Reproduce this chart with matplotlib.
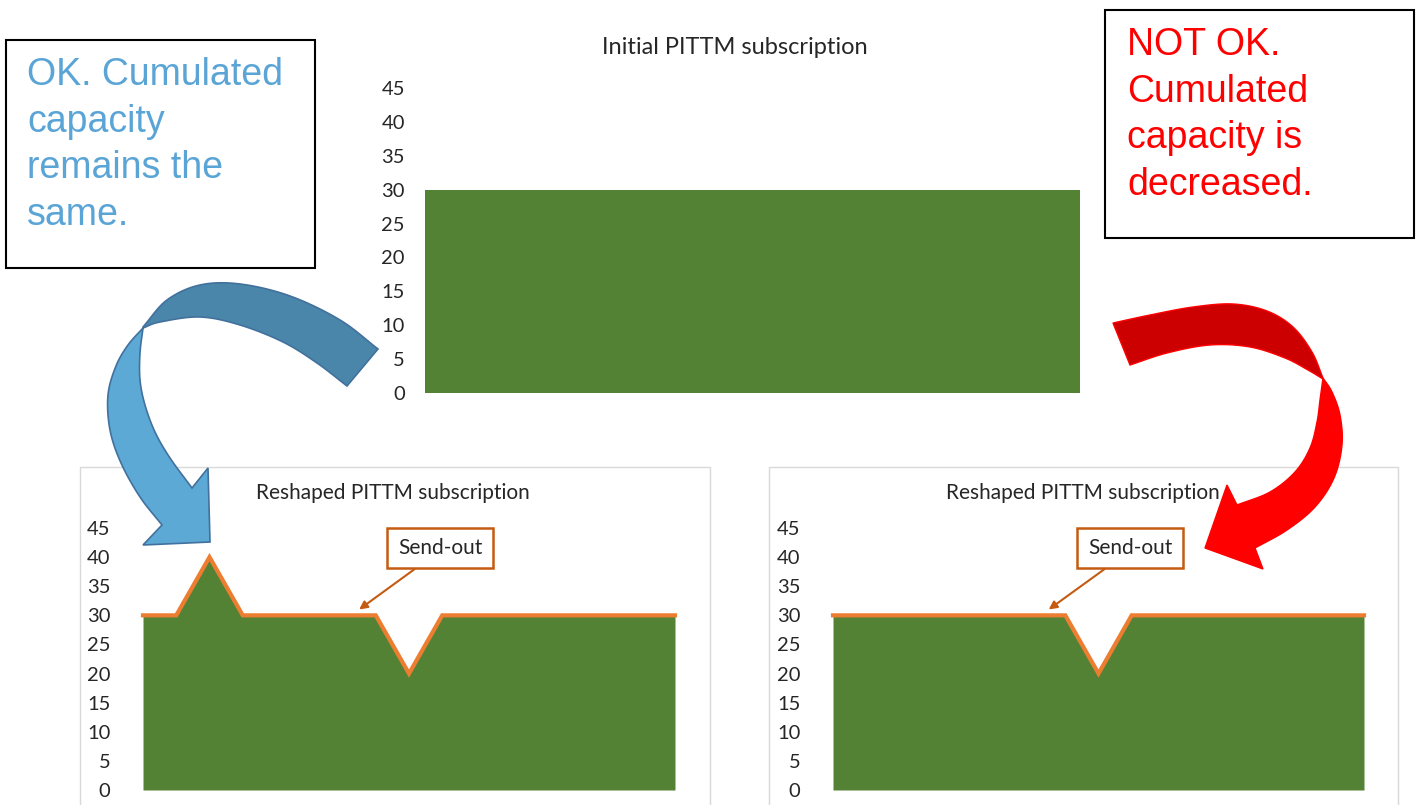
import numpy as np
import matplotlib
matplotlib.use("Agg")
import matplotlib.pyplot as plt
from matplotlib.patches import Polygon, Rectangle

# ---------------- data ----------------
periods = list(range(17))
initial_subscription = [30, 30, 30, 30, 30, 30, 30, 30, 30, 30, 30, 30, 30, 30, 30, 30, 30]
reshaped_ok = [30, 30, 40, 30, 30, 30, 30, 30, 20, 30, 30, 30, 30, 30, 30, 30, 30]
reshaped_not_ok = [30, 30, 30, 30, 30, 30, 30, 30, 20, 30, 30, 30, 30, 30, 30, 30, 30]
y_ticks = [0, 5, 10, 15, 20, 25, 30, 35, 40, 45]

title_top = "Initial PITTM subscription"
title_bottom = "Reshaped PITTM subscription"
ok_lines = ["OK. Cumulated", "capacity", "remains the", "same."]
notok_lines = ["NOT OK.", "Cumulated", "capacity is", "decreased."]

GREEN = "#548235"
ORANGE = "#ED7D31"
DORANGE = "#C55A11"
TXT = "#262626"
CHART_FONT = "Lato"

W, H = 1420, 805
fig = plt.figure(figsize=(W / 100, H / 100), dpi=100)


def fax(x0, y0, x1, y1):
    return fig.add_axes([x0 / W, 1 - y1 / H, (x1 - x0) / W, (y1 - y0) / H])


def style(ax, pad):
    ax.set_xlim(periods[0], periods[-1])
    ax.set_ylim(0, 45)
    ax.set_yticks(y_ticks)
    ax.set_xticks([])
    for s in ax.spines.values():
        s.set_visible(False)
    ax.tick_params(axis="y", length=0, pad=pad, labelsize=14.5, labelcolor=TXT)
    for lab in ax.get_yticklabels():
        lab.set_family(CHART_FONT)
    ax.patch.set_visible(False)


# top chart
ax_top = fax(425, 88, 1080, 393)
ax_top.fill_between(periods, initial_subscription, 0, color=GREEN, lw=0)
style(ax_top, 14.5)

# bottom-left chart
ax_bl = fax(143, 528, 675, 790)
ax_bl.fill_between(periods, reshaped_ok, 0, color=GREEN, lw=0)
ax_bl.plot(periods, reshaped_ok, color=ORANGE, lw=3, clip_on=False, solid_joinstyle="miter")
style(ax_bl, 23.5)

# bottom-right chart
ax_br = fax(833, 528, 1364, 790)
ax_br.fill_between(periods, reshaped_not_ok, 0, color=GREEN, lw=0)
ax_br.plot(periods, reshaped_not_ok, color=ORANGE, lw=3, clip_on=False, solid_joinstyle="miter")
style(ax_br, 23.5)

for ax, cx in ((ax_bl, 440), (ax_br, 1130)):
    ax.annotate("Send-out", xy=(6.5, 31), xycoords="data",
                xytext=(cx, H - 548), textcoords="figure pixels",
                ha="center", va="center", fontsize=15, family=CHART_FONT, color=TXT,
                bbox=dict(boxstyle="square,pad=0.5", fc="white", ec=DORANGE, lw=1.8),
                arrowprops=dict(arrowstyle="-|>", color=DORANGE, lw=1.5,
                                mutation_scale=12, shrinkA=0, shrinkB=0,
                                relpos=(0.38, 0.0)),
                annotation_clip=False, zorder=5)

# ---------------- overlay (frames, titles, boxes, arrows) ----------------
ov = fig.add_axes([0, 0, 1, 1], zorder=10)
ov.set_xlim(0, W)
ov.set_ylim(H, 0)
ov.axis("off")

ov.add_patch(Rectangle((80, 467), 630, 360, fill=False, ec="#D9D9D9", lw=1, zorder=1))
ov.add_patch(Rectangle((769, 467), 629, 360, fill=False, ec="#D9D9D9", lw=1, zorder=1))

ov.text(735, 47, title_top, ha="center", va="center", fontsize=17, family=CHART_FONT, color=TXT)
ov.text(393, 493, title_bottom, ha="center", va="center", fontsize=15, family=CHART_FONT, color=TXT)
ov.text(1083, 493, title_bottom, ha="center", va="center", fontsize=15, family=CHART_FONT, color=TXT)

ov.add_patch(Rectangle((6, 40), 309, 228, fc="white", ec="black", lw=1.5, zorder=2))
ov.add_patch(Rectangle((1105, 10), 309, 228, fc="white", ec="black", lw=1.5, zorder=2))
for i, line in enumerate(ok_lines):
    ov.text(27, 85 + 46.7 * i, line, fontsize=27, family="Liberation Sans",
            color="#5AA5D6", va="baseline", ha="left", zorder=3)
for i, line in enumerate(notok_lines):
    ov.text(1127, 55 + 46.7 * i, line, fontsize=27, family="Liberation Sans",
            color="#FF0000", va="baseline", ha="left", zorder=3)


def cr(pts, n=16):
    P = np.asarray(pts, float)
    P = np.vstack([2 * P[0] - P[1], P, 2 * P[-1] - P[-2]])
    out = []
    t = np.linspace(0, 1, n, endpoint=False)[:, None]
    for i in range(1, len(P) - 2):
        p0, p1, p2, p3 = P[i - 1], P[i], P[i + 1], P[i + 2]
        out.append(0.5 * ((2 * p1) + (-p0 + p2) * t + (2 * p0 - 5 * p1 + 4 * p2 - p3) * t ** 2
                          + (-p0 + 3 * p1 - 3 * p2 + p3) * t ** 3))
    out.append(P[-2][None])
    return np.vstack(out)


# blue curved arrow
b_outer = cr([(143, 328), (128, 345), (116, 366), (108, 395), (110, 430), (121, 463), (140, 497), (162, 525)])
b_head = np.array([(143, 545), (210, 542), (208, 468)])
b_inner = cr([(143, 328), (140, 353), (140, 380), (145, 405), (155, 432), (170, 458), (192, 488)])
ov.add_patch(Polygon(np.vstack([b_outer, b_head, b_inner[::-1]]), closed=True,
                     fc="#5DA9D6", ec="#41719C", lw=1.2, zorder=4))
b_top = cr([(378, 349), (340, 320), (290, 296), (240, 284), (200, 285), (167, 300), (143, 327)])
b_bot = cr([(347, 386), (317, 363), (283, 342), (240, 325), (200, 317), (160, 322), (143, 328)])
ov.add_patch(Polygon(np.vstack([b_top, b_bot[::-1]]), closed=True,
                     fc="#4A86AA", ec="#41719C", lw=1.2, zorder=5))

# red curved arrow
r_outer = cr([(1323, 378), (1332, 392), (1340, 415), (1342, 445), (1334, 478), (1315, 507), (1287, 530), (1255, 548)])
r_head = np.array([(1263, 569), (1205, 548), (1227, 485)])
r_inner = cr([(1323, 378), (1320, 400), (1317, 422), (1310, 448), (1295, 472), (1270, 492), (1237, 505)])
ov.add_patch(Polygon(np.vstack([r_outer, r_head, r_inner[::-1]]), closed=True,
                     fc="#FF0000", ec="#FF0000", lw=1.0, zorder=4))
r_top = cr([(1113, 323), (1150, 315), (1193, 307), (1233, 304), (1267, 311), (1293, 327), (1312, 352), (1323, 378)])
r_bot = cr([(1130, 365), (1167, 353), (1210, 345), (1250, 347), (1285, 358), (1308, 370), (1323, 379)])
ov.add_patch(Polygon(np.vstack([r_top, r_bot[::-1]]), closed=True,
                     fc="#CC0000", ec="#FF0000", lw=1.0, zorder=5))

fig.savefig("out.png", dpi=100, facecolor="white")
